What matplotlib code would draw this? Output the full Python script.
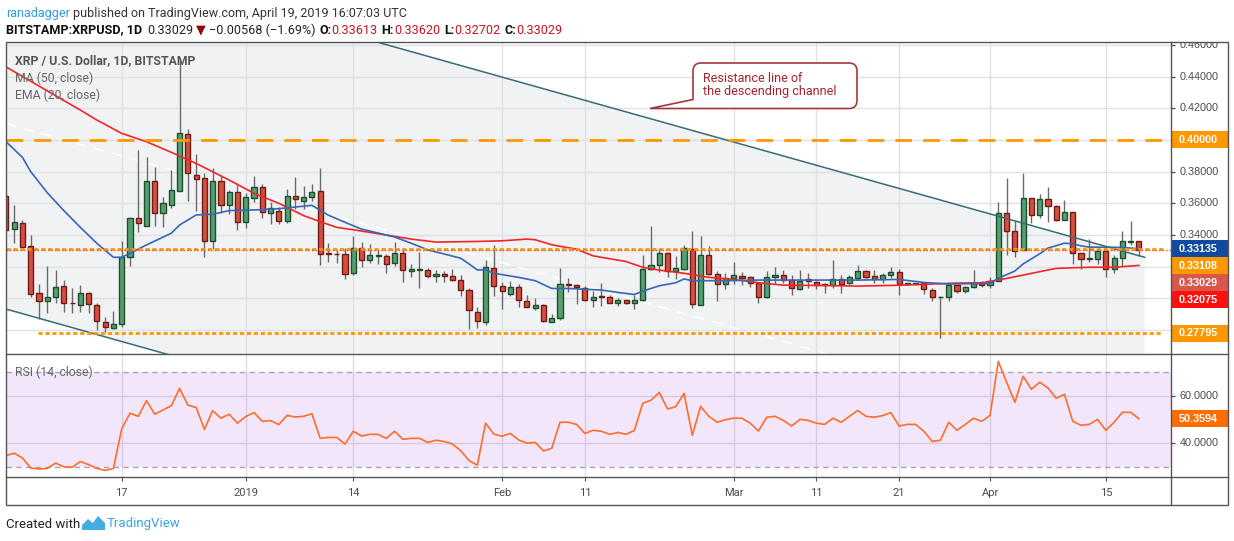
import numpy as np
import matplotlib
matplotlib.use("Agg")
import matplotlib.pyplot as plt
from matplotlib.patches import Rectangle, PathPatch, Polygon
from matplotlib.path import Path

plt.rcParams['font.family'] = ['Roboto', 'DejaVu Sans']

# --------------------
# Data (day index 0 = 3 Dec 2018, last = 19 Apr 2019)
# --------------------
opens = [
    0.3646, 0.3436, 0.3474, 0.3331, 0.3032, 0.2985, 0.3011, 0.3078, 0.2973, 0.2956,
    0.3032, 0.2956, 0.2851, 0.2811, 0.2836, 0.3259, 0.3505, 0.3457, 0.3741, 0.3537,
    0.3587, 0.3680, 0.4036, 0.3777, 0.3758, 0.3360, 0.3739, 0.3587, 0.3670, 0.3480,
    0.3632, 0.3705, 0.3537, 0.3554, 0.3491, 0.3648, 0.3617, 0.3638, 0.3676, 0.3288,
    0.3282, 0.3281, 0.3158, 0.3317, 0.3240, 0.3268, 0.3266, 0.3221, 0.3285, 0.3170,
    0.3179, 0.3177, 0.3139, 0.3151, 0.3139, 0.3113, 0.3050, 0.2916, 0.2852, 0.3189,
    0.3075, 0.3030, 0.3069, 0.2980, 0.2941, 0.2960, 0.2852, 0.2878, 0.3090, 0.3081,
    0.3062, 0.2986, 0.3013, 0.3007, 0.2971, 0.2988, 0.2971, 0.2992, 0.3187, 0.3213,
    0.3285, 0.3170, 0.3183, 0.3310, 0.2960, 0.3272, 0.3151, 0.3088, 0.3128, 0.3139,
    0.3132, 0.3094, 0.3005, 0.3136, 0.3145, 0.3113, 0.3056, 0.3119, 0.3105, 0.3088,
    0.3081, 0.3119, 0.3094, 0.3126, 0.3170, 0.3139, 0.3124, 0.3145, 0.3164, 0.3088,
    0.3090, 0.3094, 0.3054, 0.3005, 0.3011, 0.3083, 0.3043, 0.3069, 0.3098, 0.3081,
    0.3111, 0.3539, 0.3423, 0.3306, 0.3633, 0.3529, 0.3628, 0.3584, 0.3497, 0.3543,
    0.3285, 0.3247, 0.3251, 0.3300, 0.3183, 0.3253, 0.3355, 0.33613]
highs = [
    0.3660, 0.3590, 0.3495, 0.3400, 0.3091, 0.3204, 0.3179, 0.3116, 0.3063, 0.3084,
    0.3040, 0.2973, 0.2884, 0.2920, 0.3364, 0.3516, 0.3937, 0.3895, 0.3832, 0.3638,
    0.3811, 0.4510, 0.4067, 0.3910, 0.3790, 0.3821, 0.3779, 0.3684, 0.3716, 0.3663,
    0.3773, 0.3722, 0.3611, 0.3575, 0.3688, 0.3764, 0.3710, 0.3722, 0.3821, 0.3347,
    0.3306, 0.3317, 0.3395, 0.3353, 0.3344, 0.3306, 0.3278, 0.3355, 0.3306, 0.3215,
    0.3295, 0.3194, 0.3179, 0.3172, 0.3185, 0.3147, 0.3062, 0.2946, 0.3242, 0.3338,
    0.3105, 0.3111, 0.3090, 0.3020, 0.2999, 0.2963, 0.2903, 0.3192, 0.3126, 0.3088,
    0.3077, 0.3045, 0.3094, 0.3020, 0.2999, 0.2992, 0.3020, 0.3274, 0.3454, 0.3317,
    0.3295, 0.3270, 0.3336, 0.3423, 0.3395, 0.3331, 0.3172, 0.3158, 0.3232, 0.3166,
    0.3143, 0.3105, 0.3172, 0.3198, 0.3179, 0.3147, 0.3179, 0.3158, 0.3111, 0.3098,
    0.3242, 0.3147, 0.3147, 0.3211, 0.3179, 0.3179, 0.3158, 0.3200, 0.3183, 0.3096,
    0.3098, 0.3105, 0.3062, 0.3013, 0.3105, 0.3090, 0.3077, 0.3179, 0.3111, 0.3136,
    0.3607, 0.3762, 0.3486, 0.3789, 0.3635, 0.3656, 0.3705, 0.3592, 0.3624, 0.3545,
    0.3287, 0.3374, 0.3317, 0.3302, 0.3274, 0.3423, 0.3486, 0.33620]
lows = [
    0.3425, 0.3347, 0.3320, 0.3011, 0.2867, 0.2905, 0.2968, 0.2916, 0.2905, 0.2916,
    0.2910, 0.2800, 0.2790, 0.2804, 0.2817, 0.3204, 0.3421, 0.3455, 0.3457, 0.3448,
    0.3568, 0.3678, 0.3617, 0.3554, 0.3263, 0.3310, 0.3537, 0.3531, 0.3432, 0.3442,
    0.3611, 0.3505, 0.3467, 0.3470, 0.3474, 0.3562, 0.3562, 0.3617, 0.3211, 0.3232,
    0.3226, 0.3119, 0.3147, 0.3196, 0.3225, 0.3215, 0.3158, 0.3204, 0.3105, 0.3136,
    0.3062, 0.3126, 0.3105, 0.3105, 0.3111, 0.3016, 0.2808, 0.2814, 0.2833, 0.3016,
    0.2935, 0.3013, 0.2946, 0.2946, 0.2929, 0.2850, 0.2850, 0.2863, 0.3041, 0.2963,
    0.2982, 0.2946, 0.2950, 0.2971, 0.2952, 0.2965, 0.2933, 0.2984, 0.3179, 0.3168,
    0.3136, 0.3119, 0.3179, 0.2941, 0.2958, 0.3147, 0.2984, 0.3056, 0.3090, 0.3086,
    0.3071, 0.2971, 0.3003, 0.3088, 0.3094, 0.3022, 0.3052, 0.3062, 0.3056, 0.3035,
    0.3062, 0.3035, 0.3090, 0.3115, 0.3126, 0.3094, 0.3098, 0.3126, 0.3020, 0.3086,
    0.3086, 0.3026, 0.2984, 0.2751, 0.2984, 0.3035, 0.3035, 0.3064, 0.3069, 0.3066,
    0.3109, 0.3274, 0.3259, 0.3304, 0.3476, 0.3507, 0.3480, 0.3486, 0.3493, 0.3217,
    0.3183, 0.3228, 0.3217, 0.3136, 0.3162, 0.3206, 0.3338, 0.32702]
closes = [
    0.3432, 0.3482, 0.3322, 0.3027, 0.2985, 0.3006, 0.3070, 0.2973, 0.2969, 0.3032,
    0.2964, 0.2855, 0.2817, 0.2836, 0.3259, 0.3505, 0.3474, 0.3741, 0.3541, 0.3604,
    0.3684, 0.4042, 0.3790, 0.3756, 0.3364, 0.3739, 0.3587, 0.3670, 0.3480, 0.3638,
    0.3705, 0.3543, 0.3568, 0.3491, 0.3648, 0.3625, 0.3638, 0.3670, 0.3278, 0.3280,
    0.3278, 0.3151, 0.3317, 0.3242, 0.3272, 0.3272, 0.3217, 0.3285, 0.3179, 0.3183,
    0.3185, 0.3139, 0.3151, 0.3139, 0.3113, 0.3052, 0.2924, 0.2859, 0.3196, 0.3075,
    0.3045, 0.3069, 0.2986, 0.2948, 0.2960, 0.2859, 0.2878, 0.3088, 0.3081, 0.3073,
    0.2986, 0.3007, 0.3005, 0.2973, 0.2986, 0.2971, 0.2992, 0.3183, 0.3209, 0.3285,
    0.3170, 0.3192, 0.3317, 0.2967, 0.3272, 0.3156, 0.3088, 0.3126, 0.3145, 0.3128,
    0.3094, 0.3005, 0.3132, 0.3145, 0.3113, 0.3062, 0.3111, 0.3107, 0.3081, 0.3081,
    0.3119, 0.3088, 0.3132, 0.3170, 0.3132, 0.3124, 0.3145, 0.3164, 0.3088, 0.3094,
    0.3094, 0.3056, 0.3005, 0.3011, 0.3083, 0.3043, 0.3069, 0.3094, 0.3081, 0.3111,
    0.3539, 0.3427, 0.3300, 0.3635, 0.3529, 0.3628, 0.3582, 0.3497, 0.3546, 0.3285,
    0.3247, 0.3253, 0.3300, 0.3183, 0.3253, 0.3361, 0.3363, 0.33029]
rsi = [
    34.8, 35.9, 33.8, 29.6, 29.2, 29.4, 31.7, 30.1, 29.9, 32.3,
    31.0, 29.4, 28.6, 29.4, 46.1, 52.7, 51.4, 58.0, 52.3, 54.1,
    55.9, 63.2, 56.1, 55.2, 45.9, 53.8, 50.6, 52.3, 48.5, 51.3,
    53.0, 49.3, 49.6, 47.9, 51.8, 51.1, 51.4, 52.5, 42.1, 42.5,
    42.5, 39.7, 45.1, 43.1, 43.8, 43.8, 42.1, 45.1, 41.7, 42.1,
    42.1, 40.4, 41.3, 40.8, 39.7, 36.9, 32.7, 30.8, 48.5, 43.9,
    43.0, 44.2, 41.4, 40.1, 40.4, 36.8, 37.9, 48.9, 48.9, 48.0,
    44.2, 45.5, 45.1, 43.8, 44.6, 43.8, 45.5, 56.9, 58.2, 61.5,
    54.5, 55.5, 61.1, 43.4, 55.6, 51.4, 48.9, 50.0, 50.6, 50.6,
    48.5, 45.2, 51.0, 51.4, 49.7, 47.3, 50.1, 49.7, 48.5, 48.0,
    50.6, 48.9, 51.4, 53.9, 51.4, 51.0, 51.7, 53.0, 47.3, 48.0,
    48.0, 45.1, 40.8, 41.3, 48.9, 45.5, 48.0, 50.6, 49.3, 51.8,
    74.6, 65.8, 57.3, 68.3, 62.8, 65.8, 63.4, 59.0, 60.7, 49.3,
    47.6, 48.0, 50.1, 45.5, 48.9, 53.1, 53.1, 50.3594]

# indicator lines, read at a few day indices
ema_x = [0, 2, 3, 5, 7, 9, 11, 13, 14, 15, 17, 20, 21, 23, 25, 27, 30, 33, 37, 39,
         41, 43, 47, 49, 51, 55, 56, 57, 58, 59, 62, 64, 66, 68, 72, 74, 76, 77, 79, 81,
         82, 83, 87, 91, 97, 103, 108, 111, 114, 119, 120, 122, 123, 125, 126, 128, 129,
         130, 131, 133, 135, 137]
ema20 = [0.3990, 0.3890, 0.3800, 0.3667, 0.3554, 0.3448, 0.3347, 0.3259, 0.3259, 0.3284,
         0.3337, 0.3411, 0.3463, 0.3526, 0.3531, 0.3554, 0.3558, 0.3566, 0.3587, 0.3525,
         0.3480, 0.3437, 0.3387, 0.3348, 0.3306, 0.3253, 0.3217, 0.3179, 0.3179, 0.3158,
         0.3132, 0.3111, 0.3062, 0.3062, 0.3052, 0.3037, 0.3024, 0.3045, 0.3079, 0.3098,
         0.3122, 0.3111, 0.3111, 0.3115, 0.3115, 0.3115, 0.3119, 0.3100, 0.3090, 0.3094,
         0.3126, 0.3172, 0.3217, 0.3281, 0.3317, 0.3348, 0.3344, 0.3331, 0.3323, 0.3323,
         0.3321, 0.33135]
ma_x = [0, 9, 11, 14, 17, 20, 23, 27, 30, 33, 36, 38, 40, 42, 45, 49, 52, 57, 60, 63,
        64, 66, 69, 71, 75, 77, 79, 82, 85, 88, 91, 94, 98, 103, 107, 111, 115, 118, 120,
        122, 125, 127, 131, 134, 137]
ma50 = [0.4462, 0.4189, 0.4126, 0.4042, 0.3989, 0.3922, 0.3852, 0.3747, 0.3663, 0.3600,
        0.3522, 0.3484, 0.3448, 0.3433, 0.3408, 0.3374, 0.3355, 0.3359, 0.3363, 0.3374,
        0.3370, 0.3338, 0.3310, 0.3268, 0.3232, 0.3196, 0.3178, 0.3158, 0.3132, 0.3119,
        0.3098, 0.3083, 0.3081, 0.3077, 0.3081, 0.3088, 0.3096, 0.3098, 0.3115, 0.3136,
        0.3168, 0.3189, 0.3196, 0.3196, 0.32075]

# descending channel drawing
chan_x = [0, 137.7]
chan_upper = [0.5276, 0.3259]
chan_lower = [0.2932, 0.0915]

# horizontal levels
level_vals = [0.40, 0.33108, 0.27795]
level_start = [0, 0, 3.9]
level_dashed = [True, False, False]

tick_idx = [14, 29, 42, 60, 70, 88, 98, 108, 119, 133]
tick_lbl = ["17", "2019", "14", "Feb", "11", "Mar", "11", "21", "Apr", "15"]
price_ticks = [0.28, 0.30, 0.32, 0.34, 0.36, 0.38, 0.40, 0.42, 0.44, 0.46]

# --------------------
# Colours
# --------------------
UP_FILL, UP_EDGE = "#55a06f", "#1f4d2d"
DN_FILL, DN_EDGE = "#d4503d", "#6d1d15"
WICK = "#6b6b6b"
ORANGE = "#ff9800"
EMA_C, MA_C = "#3867b6", "#f32626"
CHAN_C = "#386c75"
FRAME = "#555555"
GRID = "#dfe1e5"
TXT = "#4a4a4a"

# --------------------
# Layout (pixels)
# --------------------
W, H = 1234, 541
L, R, PR = 6, 1171, 1228
T, MB, RB, TB = 42, 354, 477, 505
PLO, PHI = 0.2648, 0.4619
RLO, RHI = 25.8, 77.7
XLO, XHI = 0.01, 140.88


def frac(x0, y0, x1, y1):
    return [x0 / W, 1 - y1 / H, (x1 - x0) / W, (y1 - y0) / H]


fig = plt.figure(figsize=(W / 100, H / 100), dpi=100)
fig.patch.set_facecolor("white")

ax = fig.add_axes(frac(L, T, R, MB))
ax_rsi = fig.add_axes(frac(L, MB, R, RB))
ax_ps = fig.add_axes(frac(R, T, PR, MB))
ax_rs = fig.add_axes(frac(R, MB, PR, RB))
ov = fig.add_axes([0, 0, 1, 1])
ov.set_xlim(0, W)
ov.set_ylim(H, 0)
ov.set_axis_off()

# --------------------
# Price pane
# --------------------
x = np.arange(len(closes))
o, h, l, c = map(np.array, (opens, highs, lows, closes))

ax.set_xlim(XLO, XHI)
ax.set_ylim(PLO, PHI)
for s in ax.spines.values():
    s.set_visible(False)
ax.set_xticks(tick_idx)
ax.set_yticks(price_ticks)
ax.tick_params(length=0, labelleft=False, labelbottom=False)
ax.grid(True, color=GRID, lw=1)
ax.set_axisbelow(True)

cx = np.array(chan_x)
cu, cl = np.array(chan_upper), np.array(chan_lower)
ax.fill_between(cx, cl, cu, color="#f0f2f4", lw=0, zorder=0.2)
ax.plot(cx, (cu + cl) / 2, color="white", lw=1.2, ls=(0, (6, 5)), zorder=0.8)

up = c >= o
body_lo = np.minimum(o, c)
body_h = np.maximum(np.abs(c - o), 0.0004)
ax.vlines(x, l, h, color=WICK, lw=1, zorder=3)
ax.bar(x[up], body_h[up], bottom=body_lo[up], width=0.62,
       color=UP_FILL, edgecolor=UP_EDGE, lw=1, zorder=4)
ax.bar(x[~up], body_h[~up], bottom=body_lo[~up], width=0.62,
       color=DN_FILL, edgecolor=DN_EDGE, lw=1, zorder=4)

ax.plot(ma_x, ma50, color=MA_C, lw=1.2, zorder=5)
ax.plot(ema_x, ema20, color=EMA_C, lw=1.2, zorder=5)

ax.plot(cx, cu, color=CHAN_C, lw=1.1, zorder=6)
ax.plot(cx, cl, color=CHAN_C, lw=1.1, zorder=6)

for v, x0, dashed in zip(level_vals, level_start, level_dashed):
    ls = (0, (6, 4)) if dashed else (0, (1.5, 1))
    ax.hlines(v, x0, 139.9, color=ORANGE, lw=2, linestyles=[ls], zorder=6)
# last price line
ax.axhline(closes[-1], color="#d9574a", lw=1, ls=(0, (1, 1.5)), zorder=6.5)

# --------------------
# RSI pane
# --------------------
ax_rsi.set_xlim(XLO, XHI)
ax_rsi.set_ylim(RLO, RHI)
for s in ax_rsi.spines.values():
    s.set_visible(False)
ax_rsi.set_yticks([40, 60])
ax_rsi.set_xticks(tick_idx)
ax_rsi.set_xticklabels(tick_lbl)
ax_rsi.tick_params(axis="y", length=0, labelleft=False)
ax_rsi.tick_params(axis="x", length=3, color=FRAME, labelsize=8,
                   labelcolor=TXT, pad=5)
ax_rsi.grid(True, color="#e0e0e0", lw=1)
ax_rsi.set_axisbelow(True)
ax_rsi.axhspan(30, 70, color="#9933e6", alpha=0.12, lw=0, zorder=0.8)
for v in (30, 70):
    ax_rsi.axhline(v, color="#aaa3b0", lw=1, ls=(0, (4, 3)), zorder=1)
ax_rsi.plot(x, rsi, color="#ff6d2a", lw=1.2, zorder=4)

# --------------------
# Price scale with badges
# --------------------
for a, lo, hi in ((ax_ps, PLO, PHI), (ax_rs, RLO, RHI)):
    a.set_xlim(0, PR - R)
    a.set_ylim(lo, hi)
    a.set_axis_off()

AXFONT = ["Liberation Sans", "DejaVu Sans"]
badges = [(level_vals[0], ORANGE), (ema20[-1], "#0f4aa0"), (level_vals[1], ORANGE),
          (closes[-1], "#d9574a"), (ma50[-1], "#ff1010"), (level_vals[2], ORANGE)]
bh = 17 * (PHI - PLO) / (MB - T)
placed = []
prev = None
for v, col in sorted(badges, key=lambda b: -b[0]):
    yc = v if prev is None else min(v, prev - bh)
    prev = yc
    placed.append((v, yc, col))

# tick labels that a badge would cover are left out (TradingView hides them)
for v in price_ticks:
    ax_ps.hlines(v, 0, 4, color=FRAME, lw=1)
    if any(abs(v - yc) < 0.8 * bh for _, yc, _ in placed):
        continue
    ax_ps.text(9, v, f"{v:.5f}", color=TXT, fontsize=7.8, va="center",
               ha="left", clip_on=True, family=AXFONT)

for v, yc, col in placed:
    ax_ps.add_patch(Rectangle((0, yc - bh / 2), PR - R, bh, color=col, lw=0, zorder=5))
    ax_ps.text(8, yc, f"{v:.5f}", color="white", fontsize=7.8, fontweight="bold",
               va="center", ha="left", zorder=6, family=AXFONT)

for v in (40, 60):
    ax_rs.hlines(v, 0, 4, color=FRAME, lw=1)
    ax_rs.text(9, v, f"{v:.4f}", color=TXT, fontsize=7.8, va="center", ha="left",
               family=AXFONT)
rbh = 17 * (RHI - RLO) / (RB - MB)
ax_rs.add_patch(Rectangle((0, rsi[-1] - rbh / 2), PR - R, rbh, color="#ff6d00", lw=0))
ax_rs.text(8, rsi[-1], f"{rsi[-1]:.4f}", color="white", fontsize=7.8,
           fontweight="bold", va="center", ha="left", family=AXFONT)

# --------------------
# Frame
# --------------------
ov.add_patch(Rectangle((L, T), PR - L, TB - T, fill=False, ec=FRAME, lw=1))
ov.plot([L, PR], [MB, MB], color=FRAME, lw=1)
ov.plot([L, PR], [RB, RB], color=FRAME, lw=1)
ov.plot([R, R], [T, TB], color=FRAME, lw=1)

# --------------------
# Texts
# --------------------
renderer = fig.canvas.get_renderer()


def runs(x0, y, parts, size):
    for s, col, wt, gap in parts:
        t = ov.text(x0, y, s, color=col, fontsize=size, fontweight=wt,
                    va="center", ha="left")
        x0 += t.get_window_extent(renderer).width + gap
    return x0


runs(6, 13, [("ranadagger", "#2c9fe2", "normal", 3.5),
             ("published on TradingView.com, April 19, 2019 16:07:03 UTC", "#333333",
              "normal", 0)], 9)
RED = "#c4161c"
runs(6, 30, [("BITSTAMP:XRPUSD, 1D", "#111111", "bold", 5),
             (f"{closes[-1]:.5f}", "#222222", "normal", 3),
             ("▼", "#8b0a0a", "normal", 3),
             ("−0.00568 (−1.69%)", "#222222", "normal", 4),
             ("O:", "#111111", "bold", 0), (f"{opens[-1]:.5f}", RED, "normal", 4),
             ("H:", "#111111", "bold", 0), (f"{highs[-1]:.5f}", RED, "normal", 4),
             ("L:", "#111111", "bold", 0), (f"{lows[-1]:.5f}", RED, "normal", 4),
             ("C:", "#111111", "bold", 0), (f"{closes[-1]:.5f}", RED, "normal", 0)], 9.1)

ov.text(15, 61, "XRP / U.S. Dollar, 1D, BITSTAMP", color="#555555", fontsize=8.8,
        fontweight="bold", va="center")
ov.text(15, 78, "MA (50, close)", color="#666666", fontsize=8.8, va="center")
ov.text(15, 95, "EMA (20, close)", color="#666666", fontsize=8.8, va="center")
ov.text(15, 372, "RSI (14, close)", color="#666666", fontsize=8.8, va="center")

# callout
bx0, bx1, by0, by1, r = 693, 857, 63, 108.5, 8
verts = [(bx0, by0 + r), (bx0, 99.5), (650, by1), (bx1 - r, by1), (bx1, by1),
         (bx1, by1 - r), (bx1, by0 + r), (bx1, by0), (bx1 - r, by0), (bx0 + r, by0),
         (bx0, by0), (bx0, by0 + r)]
codes = [Path.MOVETO, Path.LINETO, Path.LINETO, Path.LINETO, Path.CURVE3, Path.CURVE3,
         Path.LINETO, Path.CURVE3, Path.CURVE3, Path.LINETO, Path.CURVE3, Path.CURVE3]
ov.add_patch(PathPatch(Path(verts, codes), fc="white", ec="#a8363c", lw=1.2))
ov.text(703, 78, "Resistance line of", color="#a3222b", fontsize=9, va="center")
ov.text(703, 91, "the descending channel", color="#a3222b", fontsize=9, va="center")

# footer
ov.text(6, 524, "Created with", color="#222222", fontsize=9.5, va="center")
ov.add_patch(Polygon([(82, 530), (82, 525), (88, 519), (93, 523), (98, 516),
                      (105, 523), (105, 530)], closed=True, color="#42ace3", lw=0))
ov.text(107, 524, "TradingView", color="#3aa6e0", fontsize=9.5, va="center")

fig.savefig("out.png", dpi=100)
